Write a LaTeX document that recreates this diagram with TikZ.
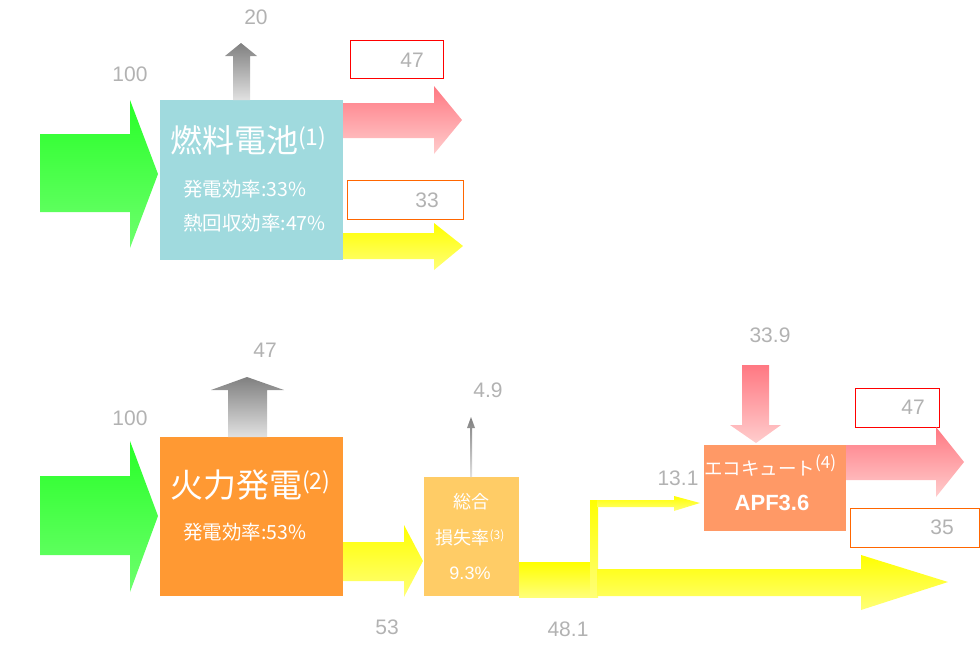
\documentclass[tikz,border=0pt]{standalone}
\usepackage{fontspec}
\setmainfont{Noto Sans CJK JP}
\newfontfamily\labfont{Liberation Sans}
\definecolor{cyanbox}{RGB}{160,218,222}
\definecolor{orangebox}{RGB}{255,153,51}
\definecolor{lossbox}{RGB}{255,204,102}
\definecolor{ecobox}{RGB}{255,153,102}
\definecolor{boxorange}{RGB}{255,102,0}
\definecolor{greenA}{RGB}{40,255,40}
\definecolor{greenB}{RGB}{110,255,110}
\definecolor{pinkA}{RGB}{255,120,130}
\definecolor{pinkB}{RGB}{255,205,205}
\definecolor{yelA}{RGB}{255,255,0}
\definecolor{yelB}{RGB}{255,255,120}
\definecolor{grayA}{RGB}{128,128,128}
\definecolor{grayB}{RGB}{225,225,225}
\newcommand\supnum[3]{\raisebox{#2}{\fontsize{#1}{#1}\selectfont #3}}
\tikzset{
  lbl/.style={text=gray!60, font=\labfont\fontsize{21}{21}\selectfont, inner sep=0pt},
  blockbox/.style={anchor=north west, inner sep=0pt, draw=none},
  valbox/.style={draw, line width=1.3pt, fill=white, anchor=north west, inner sep=0pt},
  wtxt/.style={text=white, inner sep=0pt},
  greenarrow/.style={top color=greenA, bottom color=greenB, draw=none},
  pinkarrow/.style={top color=pinkA, bottom color=pinkB, draw=none},
  yelarrow/.style={top color=yelA, bottom color=yelB, draw=none},
  grayarrow/.style={top color=grayA, bottom color=grayB, draw=none},
}
\begin{document}
\begin{tikzpicture}[x=1pt,y=1pt]
\useasboundingbox (0,0) rectangle (980,-649);
% ---------- boxes ----------
\node (fc) [blockbox, fill=cyanbox, minimum width=183pt, minimum height=160pt] at (160,-100) {};
\node (tp) [blockbox, fill=orangebox, minimum width=183pt, minimum height=159pt] at (160,-437) {};
\node (loss) [blockbox, fill=lossbox, minimum width=95pt, minimum height=119pt] at (424,-477) {};
\node (eco) [blockbox, fill=ecobox, minimum width=142pt, minimum height=86pt] at (704,-445) {};
% value boxes
\node (v47a) [valbox, draw=red, minimum width=93pt, minimum height=38pt] at (350,-40) {};
\node (v33) [valbox, draw=boxorange, minimum width=116pt, minimum height=39pt] at (347,-180) {};
\node (v47b) [valbox, draw=red, minimum width=84pt, minimum height=39pt] at (855,-388) {};
\node (v35) [valbox, draw=boxorange, minimum width=129pt, minimum height=39pt] at (850,-508) {};
% ---------- arrows top ----------
\shade[greenarrow] (40,-134) -- (130,-134) -- (130,-100) -- (158,-174) -- (130,-248) -- (130,-212) -- (40,-212) -- cycle;
\shade[grayarrow] (233,-100) -- (233,-56) -- (225,-56) -- (241,-43) -- (257,-56) -- (250,-56) -- (250,-100) -- cycle;
\shade[pinkarrow] (343,-103) -- (434,-103) -- (434,-86) -- (462,-120) -- (434,-154) -- (434,-138) -- (343,-138) -- cycle;
\shade[yelarrow] (343,-233) -- (434,-233) -- (434,-223) -- (463,-246) -- (434,-270) -- (434,-259) -- (343,-259) -- cycle;
% ---------- arrows bottom ----------
\shade[greenarrow] (40,-476) -- (130,-476) -- (130,-441) -- (158,-516) -- (130,-592) -- (130,-555) -- (40,-555) -- cycle;
\shade[grayarrow] (228,-437) -- (228,-390) -- (211,-390) -- (247,-377) -- (284,-390) -- (267,-390) -- (267,-437) -- cycle;
\shade[grayarrow] (470,-477) -- (470,-428) -- (467,-428) -- (471,-417) -- (475,-428) -- (472,-428) -- (472,-477) -- cycle;
\shade[yelarrow] (343,-542) -- (404,-542) -- (404,-525) -- (423,-561) -- (404,-597) -- (404,-581) -- (343,-581) -- cycle;
\shade[yelarrow] (519,-562) rectangle (591,-597);
\shade[yelarrow] (590,-500) rectangle (598,-597);
\shade[yelarrow] (597,-500) -- (674,-500) -- (674,-496) -- (700,-503) -- (674,-511) -- (674,-507) -- (597,-507) -- cycle;
\shade[yelarrow] (597,-569) -- (861,-569) -- (861,-555) -- (948,-582) -- (861,-610) -- (861,-596) -- (597,-596) -- cycle;
\shade[pinkarrow] (742,-365) -- (769,-365) -- (769,-425) -- (781,-425) -- (756,-443) -- (730,-425) -- (742,-425) -- cycle;
\shade[pinkarrow] (846,-445) -- (936,-445) -- (936,-427) -- (964,-462) -- (936,-497) -- (936,-480) -- (846,-480) -- cycle;
% ---------- texts in boxes ----------
\node (fct) [wtxt, anchor=west, font=\fontsize{32}{32}\selectfont] at (170,-140) {燃料電池\supnum{23}{7pt}{(1)}};
\node (fce) [wtxt, anchor=west, font=\fontsize{19.5}{20}\selectfont] at (183,-189) {発電効率:33\%};
\node (fch) [wtxt, anchor=west, font=\fontsize{19.5}{20}\selectfont] at (183,-223) {熱回収効率:47\%};
\node (tpt) [wtxt, anchor=west, font=\fontsize{33}{33}\selectfont] at (170,-485) {火力発電\supnum{23}{8pt}{(2)}};
\node (tpe) [wtxt, anchor=west, font=\fontsize{19.5}{20}\selectfont] at (183,-532) {発電効率:53\%};
\node (l1) [wtxt, font=\fontsize{18}{18}\selectfont] at (471,-502) {総合};
\node (l2) [wtxt, font=\fontsize{18}{18}\selectfont] at (470,-538) {損失率\supnum{12}{5pt}{(3)}};
\node (l3) [wtxt, font=\labfont\fontsize{18}{18}\selectfont] at (470,-573) {9.3\%};
\node (e1) [wtxt, anchor=west, font=\fontsize{18.5}{19}\selectfont] at (704,-465) {エコキュート\supnum{17}{7pt}{(4)}};
\node (e2) [wtxt, font=\labfont\bfseries\fontsize{22}{22}\selectfont] at (772,-503) {APF3.6};
% ---------- value labels ----------
\node (n20) [lbl] at (256,-17) {20};
\node (n100a) [lbl] at (130,-74) {100};
\node (n47a) [lbl] at (412,-60) {47};
\node (n33) [lbl] at (427,-200) {33};
\node (n47b) [lbl] at (265,-350) {47};
\node (n100b) [lbl] at (130,-418) {100};
\node (n49) [lbl] at (488,-390) {4.9};
\node (n53) [lbl] at (387,-627) {53};
\node (n481) [lbl] at (568,-629) {48.1};
\node (n131) [lbl] at (678,-478) {13.1};
\node (n339) [lbl] at (770,-335) {33.9};
\node (n47c) [lbl] at (913,-407) {47};
\node (n35) [lbl] at (942,-527) {35};
\end{tikzpicture}
\end{document}
